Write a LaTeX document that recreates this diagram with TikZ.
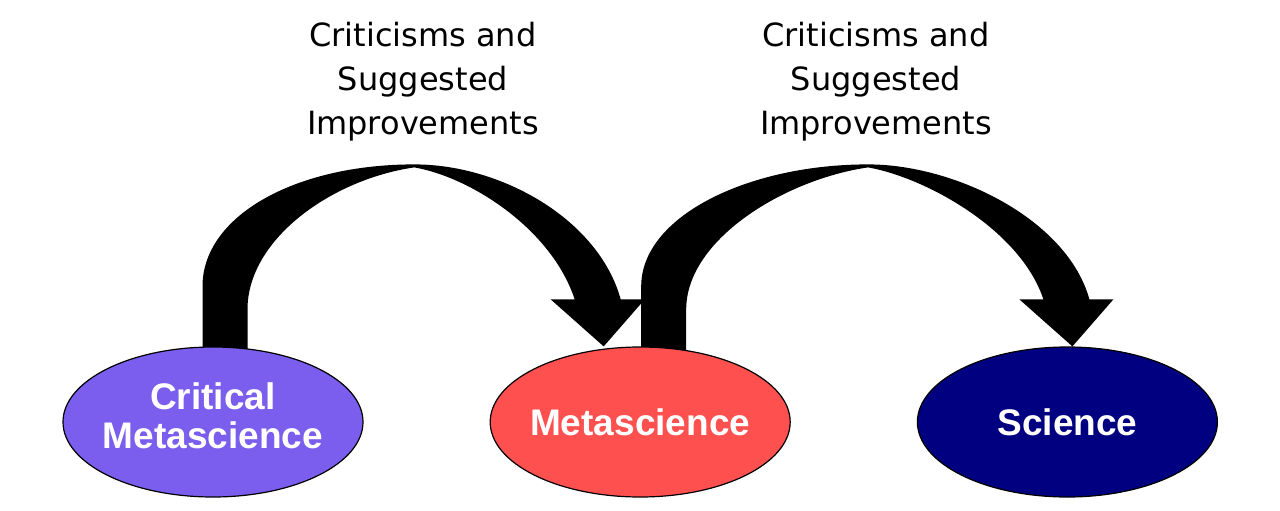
\documentclass[tikz,border=0pt]{standalone}
\usepackage{fontspec}
\usetikzlibrary{shapes.geometric,positioning,calc}
\newfontfamily\ovalfont{Liberation Sans}
\newfontfamily\notefont{DejaVu Sans}
\definecolor{critpurple}{RGB}{123,94,238}
\definecolor{metared}{RGB}{255,80,80}
\definecolor{scinavy}{RGB}{0,0,128}
\pgfdeclarelayer{back}
\pgfsetlayers{back,main}

\tikzstyle{pblob} = [draw,ellipse,minimum width=150pt,minimum height=75pt,inner sep=-8pt,line width=0.6pt,align=center,text=white,fill=critpurple,font=\ovalfont\bfseries\fontsize{18.5}{19.5}\selectfont]
\tikzstyle{rblob} = [draw,ellipse,minimum width=150pt,minimum height=75pt,inner sep=-8pt,line width=0.6pt,align=center,text=white,fill=metared,font=\ovalfont\bfseries\fontsize{18.5}{19.5}\selectfont]
\tikzstyle{nblob} = [draw,ellipse,minimum width=150pt,minimum height=75pt,inner sep=-8pt,line width=0.6pt,align=center,text=white,fill=scinavy,font=\ovalfont\bfseries\fontsize{18.5}{19.5}\selectfont]
\tikzstyle{note}  = [align=center,inner sep=0pt,font=\notefont\fontsize{16}{22}\selectfont]

\newcommand{\humparrow}[2]{%
  \fill[black] ($(#1)+(-22.5,-4)$) -- ++(0,64)
    .. controls +(0,70) and +(-120,0) .. ($(#1)!.5!(#2)+(0,182)$)
    .. controls +(87,0) and +(-22,80) .. ($(#2)+(17,47)$)
    -- ($(#2)+(41,47)$) -- (#2) -- ($(#2)+(-53,47)$) -- ($(#2)+(-29,47)$)
    .. controls +(-23,70) and +(57,-10) .. ($(#1)!.5!(#2)+(0,179)$)
    .. controls +(-83,-12) and +(0,70) .. ($(#1)+(22.5,37)$)
    -- ($(#1)+(22.5,-4)$) -- cycle;}

\begin{document}
\begin{tikzpicture}[x=0.5pt,y=0.5pt]
\useasboundingbox (0,0) rectangle (1280,510);

\node [pblob,text depth=6pt] (crit) at (213,88) {Critical\\Metascience};
\node [rblob,right=63pt of crit] (meta) {Metascience};
\node [nblob,right=63pt of meta] (sci) {Science};

\coordinate (s1) at ($(crit.north)+(12,0)$);
\coordinate (e1) at ($(meta.north)+(-36.5,0)$);
\coordinate (s2) at ($(meta.north)+(23.5,0)$);
\coordinate (e2) at ($(sci.north)+(5,0)$);

\begin{pgfonlayer}{back}
\humparrow{s1}{e1}
\humparrow{s2}{e2}
\end{pgfonlayer}

\node [note,anchor=north] (note 1) at (423,488) {Criticisms and\\Suggested\\Improvements};
\node [note,anchor=north] (note 2) at (876,488) {Criticisms and\\Suggested\\Improvements};
\end{tikzpicture}
\end{document}
